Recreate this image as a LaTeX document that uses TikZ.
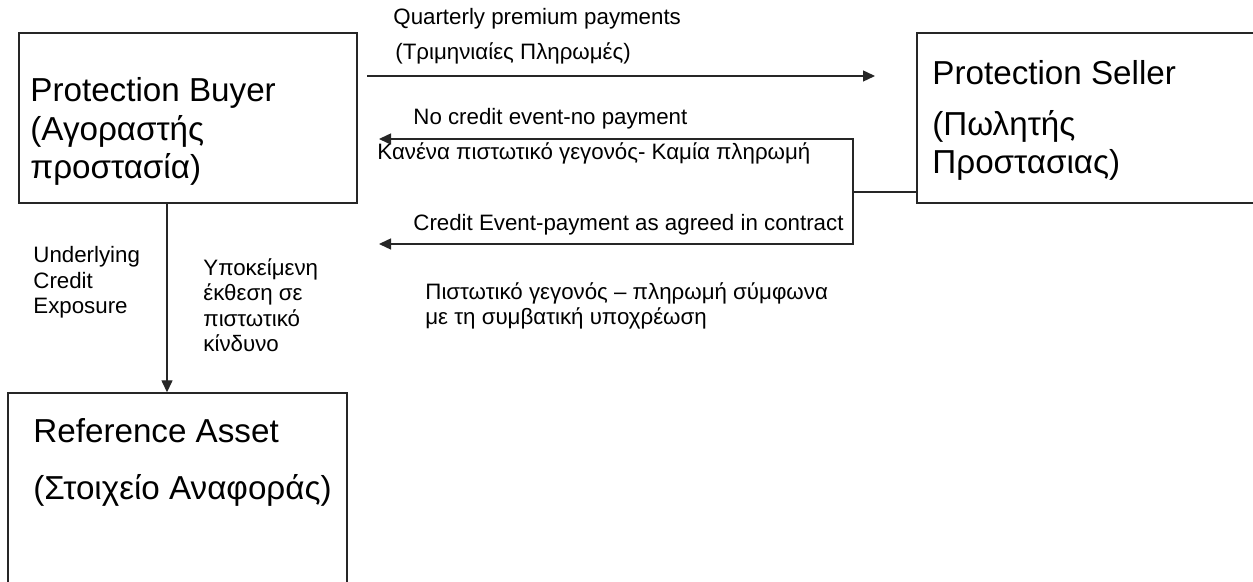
\documentclass[tikz,border=0pt]{standalone}
\usepackage{fontspec}
\setmainfont{Liberation Sans}
\usetikzlibrary{arrows.meta, positioning, calc}

\begin{document}
\begin{tikzpicture}[
  x=0.5pt, y=-0.5pt,
  box/.style = {draw=black!85, line width=0.7pt, inner sep=0pt},
  line/.style = {draw=black!85, line width=0.7pt, -{Triangle[length=6pt, width=5.5pt]}},
  plain/.style = {draw=black!85, line width=0.7pt},
  big/.style = {anchor=base west, inner sep=0pt, align=left, font=\fontsize{16.6}{19.25}\selectfont},
  small/.style = {anchor=base west, inner sep=0pt, align=left, font=\fontsize{11.15}{12.8}\selectfont}
]
  \useasboundingbox (0,0) rectangle (1253,582);
  \clip (0,0) rectangle (1253,582);

  % Boxes
  \node[box, minimum width=169pt, minimum height=85pt] (buyer) at (188,118) {};
  \node[box, minimum width=172.5pt, minimum height=85pt] (seller) at (1089.5,118) {};
  \node[box, minimum width=169.5pt, minimum height=113.5pt] (asset) at (177.5,506.5) {};

  % Box texts (base = last line)
  \node[big] (buyertext) at (30,179) {Protection Buyer\\(Αγοραστής\\προστασία)};
  \node[big] (sellertext) at (932,85) {Protection Seller};
  \node[big] (sellergreek) at (932,174) {(Πωλητής\\Προστασιας)};
  \node[big] (assettext) at (33,443) {Reference Asset};
  \node[big] (assetgreek) at (33,500) {(Στοιχείο Αναφοράς)};

  % Coordinates
  \coordinate (premstart) at (367,76);
  \coordinate (premend) at (875,76);
  \coordinate (split) at (853,192);
  \coordinate (nopay) at (379,139);
  \coordinate (pay) at (379,244);

  % Connections
  \draw[line] (premstart) -- (premend);
  \draw[plain] (split -| seller.west) -- (split);
  \draw[line] (split) |- (nopay);
  \draw[line] (split) |- (pay);
  \draw[line] ([xshift=-10.5pt]buyer.south) -- ([xshift=-10.5pt]buyer.south |- asset.north);

  % Labels
  \node[small] (premlabel) at (393,25) {Quarterly premium payments};
  \node[small] (premgreek) at (395,60) {(Τριμηνιαίες Πληρωμές)};
  \node[small] (nopaylabel) at (413,125) {No credit event-no payment};
  \node[small] (nopaygreek) at (377,160) {Κανένα πιστωτικό γεγονός- Καμία πληρωμή};
  \node[small] (paylabel) at (413,231) {Credit Event-payment as agreed in contract};
  \node[small, font=\fontsize{11.15}{12.6}\selectfont] (paygreek) at (425,325) {Πιστωτικό γεγονός – πληρωμή σύμφωνα\\με τη συμβατική υποχρέωση};
  \node[small] (exposure) at (33,314) {Underlying\\Credit\\Exposure};
  \node[small] (exposuregreek) at (203,352) {Υποκείμενη\\έκθεση σε\\πιστωτικό\\κίνδυνο};

\end{tikzpicture}
\end{document}
